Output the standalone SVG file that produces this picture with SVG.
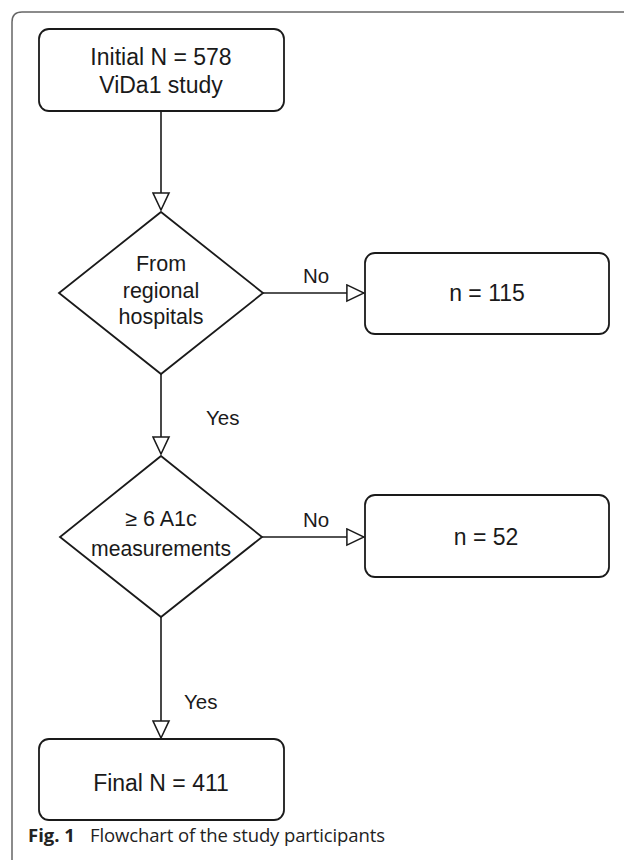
<svg xmlns="http://www.w3.org/2000/svg" width="624" height="860" viewBox="0 0 624 860">
  <style>
    .box { fill: #ffffff; stroke: #1a1a1a; stroke-width: 1.8; }
    .conn { fill: none; stroke: #1a1a1a; stroke-width: 1.6; marker-end: url(#tri); }
    .t { font-family: "Liberation Sans", Arial, sans-serif; fill: #1a1a1a; text-anchor: middle; }
    .big { font-size: 23px; }
    .mid { font-size: 21.5px; }
    .lbl { font-family: "Liberation Sans", Arial, sans-serif; fill: #1a1a1a; font-size: 20.5px; }
    .cap { font-family: "Open Sans", "Noto Sans", sans-serif; fill: #222; font-size: 18.5px; }
  </style>
  <defs>
    <marker id="tri" viewBox="0 0 20 20" markerUnits="userSpaceOnUse" markerWidth="19" markerHeight="19" refX="19" refY="10" orient="auto">
      <path d="M1,1.5 L19,10 L1,18.5 Z" fill="#ffffff" stroke="#1a1a1a" stroke-width="1.6"/>
    </marker>
  </defs>
  <rect width="624" height="860" fill="#ffffff"/>
  <path d="M624,12 L22,12 Q12,12 12,22 L12,860" fill="none" stroke="#666" stroke-width="1.5"/>

  <g id="connectors">
    <path class="conn" d="M161,111 L161,210"/>
    <path class="conn" d="M263,293 L364,293"/>
    <path class="conn" d="M161,374 L161,454"/>
    <path class="conn" d="M262,537 L364,537"/>
    <path class="conn" d="M161,617 L161,738"/>
    <text class="lbl" x="303" y="283">No</text>
    <text class="lbl" x="206" y="425">Yes</text>
    <text class="lbl" x="303" y="527">No</text>
    <text class="lbl" x="184" y="709">Yes</text>
  </g>

  <g id="start">
    <rect class="box" x="39" y="29" width="245" height="82" rx="10"/>
    <text class="t big" x="161" y="65">Initial N = 578</text>
    <text class="t big" x="161" y="93">ViDa1 study</text>
  </g>

  <g id="decision1">
    <polygon class="box" points="161,212 263,293 161,374 59,293"/>
    <text class="t mid" x="161" y="271">From</text>
    <text class="t mid" x="161" y="298">regional</text>
    <text class="t mid" x="161" y="324">hospitals</text>
  </g>

  <g id="excluded1">
    <rect class="box" x="365" y="253" width="244" height="81" rx="10"/>
    <text class="t big" x="487" y="301">n = 115</text>
  </g>

  <g id="decision2">
    <polygon class="box" points="161,456 262,537 161,617 60,537"/>
    <text class="t mid" x="161" y="526">≥ 6 A1c</text>
    <text class="t mid" x="161" y="556" textLength="140" lengthAdjust="spacingAndGlyphs">measurements</text>
  </g>

  <g id="excluded2">
    <rect class="box" x="365" y="495" width="244" height="82" rx="10"/>
    <text class="t big" x="486" y="545">n = 52</text>
  </g>

  <g id="final">
    <rect class="box" x="39" y="739" width="245" height="81" rx="10"/>
    <text class="t big" x="161" y="791">Final N = 411</text>
  </g>

  <g id="caption">
    <text class="cap" x="28" y="842"><tspan font-weight="bold">Fig. 1</tspan><tspan x="90" textLength="295">Flowchart of the study participants</tspan></text>
  </g>
</svg>
